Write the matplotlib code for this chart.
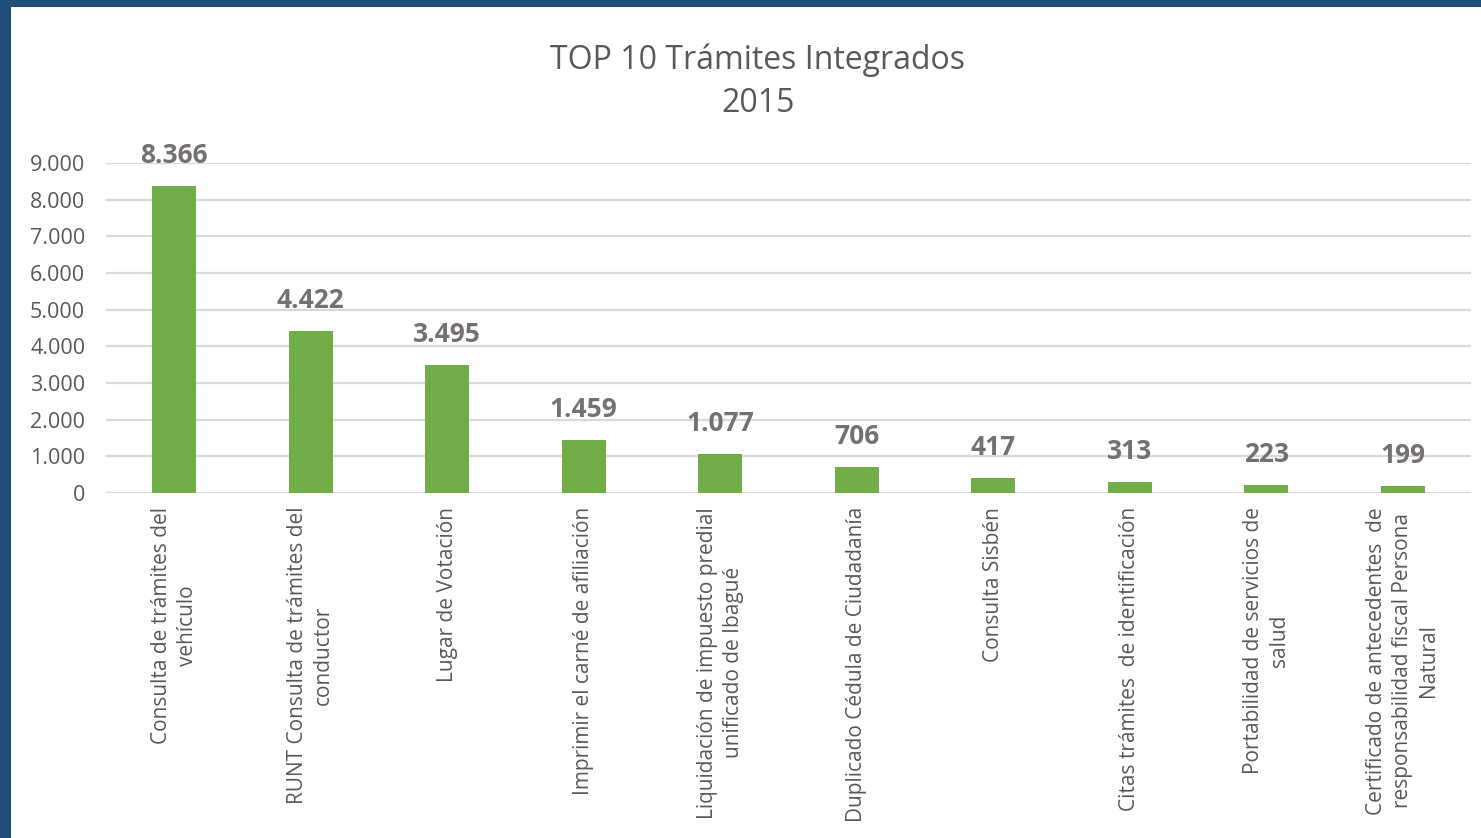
import matplotlib.pyplot as plt
from matplotlib.patches import Rectangle
import numpy as np

# Datos
categorias = [
    "Consulta de trámites del\nvehículo",
    "RUNT Consulta de trámites del\nconductor",
    "Lugar de Votación",
    "Imprimir el carné de afiliación",
    "Liquidación de impuesto predial\nunificado de Ibagué",
    "Duplicado Cédula de Ciudadanía",
    "Consulta Sisbén",
    "Citas trámites  de identificación",
    "Portabilidad de servicios de\nsalud",
    "Certificado de antecedentes  de\nresponsabilidad fiscal Persona\nNatural",
]
valores = [8366, 4422, 3495, 1459, 1077, 706, 417, 313, 223, 199]
yticks = [0, 1000, 2000, 3000, 4000, 5000, 6000, 7000, 8000, 9000]


def miles(v):
    return f"{v:,}".replace(",", ".")


plt.rcParams['font.family'] = ['Open Sans', 'DejaVu Sans']
gris = '#595959'
gris_etiq = '#757171'
azul = '#1F4E79'

fig = plt.figure(figsize=(14.81, 8.38), dpi=100, facecolor='white')
# marco azul (izquierda y arriba)
fig.patches.append(Rectangle((0, 0), 11/1481, 1, transform=fig.transFigure,
                             facecolor=azul, edgecolor='none'))
fig.patches.append(Rectangle((0, 1 - 7/838), 1, 7/838, transform=fig.transFigure,
                             facecolor=azul, edgecolor='none'))

ax = fig.add_axes([106/1481, 345/838, 1365/1481, 330/838])
ax.set_facecolor('white')

x = np.arange(len(valores))
ax.bar(x, valores, width=0.32, color='#70AD47', zorder=3)

for xi, v in zip(x, valores):
    ax.annotate(miles(v), (xi, v), xytext=(0, 16.5), textcoords='offset points',
                ha='center', va='baseline', fontsize=19, fontweight='bold', color=gris_etiq)

ax.set_xlim(-0.5, len(valores) - 0.5)
ax.set_ylim(0, 9000)
ax.set_yticks(yticks)
ax.set_yticklabels([miles(t) for t in yticks], fontsize=15.5, color=gris)
ax.set_xticks(x)
ax.set_xticklabels(categorias, rotation=90, ha='center', va='top',
                   fontsize=15, color=gris, multialignment='center', linespacing=1.3)
ax.tick_params(axis='both', length=0)
ax.tick_params(axis='y', pad=15)
ax.tick_params(axis='x', pad=10)

ax.grid(axis='y', color='#D9D9D9', linewidth=1.6, zorder=0)
for s in ax.spines.values():
    s.set_visible(False)

fig.text(758/1481, 1 - 60/838, "TOP 10 Trámites Integrados", ha='center', va='center',
         fontsize=23, color=gris)
fig.text(758/1481, 1 - 104/838, "2015", ha='center', va='center',
         fontsize=23, color=gris)

fig.savefig('out.png', dpi=100, facecolor=fig.get_facecolor())
